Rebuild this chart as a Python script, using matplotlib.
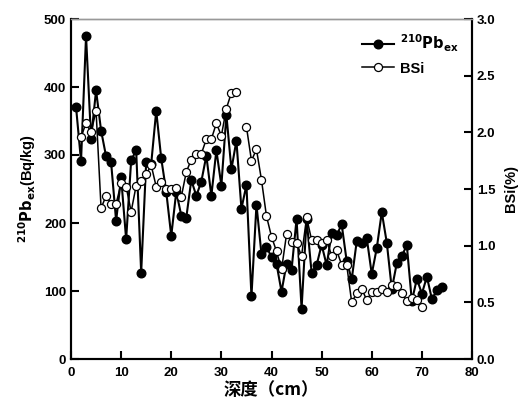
import numpy as np
import matplotlib
matplotlib.use("Agg")
import matplotlib.pyplot as plt

plt.rcParams['font.family'] = ['Liberation Sans', 'Noto Sans CJK SC', 'DejaVu Sans']
plt.rcParams['font.weight'] = 'bold'

# Depth (cm) and measured series
depth_pb = list(range(1, 75))
pb210 = [371, 291, 475, 324, 395, 336, 298, 289, 203, 267,
         176, 292, 307, 127, 290, 287, 365, 295, 246, 181,
         246, 211, 208, 263, 240, 261, 299, 240, 307, 255,
         359, 279, 321, 221, 256, 92, 227, 154, 165, 150,
         140, 99, 140, 131, 206, 74, 206, 127, 138, 168,
         138, 185, 182, 198, 144, 117, 173, 171, 178, 125,
         163, 216, 171, 103, 141, 152, 167, 85, 118, 96,
         121, 88, 101, 106]

depth_bsi = list(range(2, 71))
bsi = [1.96, 2.08, 2.00, 2.19, 1.33, 1.44, 1.37, 1.37, 1.55, 1.52,
       1.30, 1.53, 1.57, 1.63, 1.71, 1.52, 1.56, 1.50, 1.50, 1.51,
       1.43, 1.65, 1.76, 1.81, 1.81, 1.94, 1.94, 2.08, 1.97, 2.21,
       2.35, 2.36, np.nan, 2.05, 1.75, 1.85, 1.58, 1.26, 1.08, 0.95,
       0.79, 1.10, 1.03, 1.02, 0.91, 1.25, 1.05, 1.05, 1.02, 1.05,
       0.91, 0.96, 0.83, 0.83, 0.50, 0.58, 0.62, 0.52, 0.59, 0.59,
       0.62, 0.59, 0.65, 0.64, 0.58, 0.51, 0.54, 0.52, 0.46]

x_ticks = [0, 10, 20, 30, 40, 50, 60, 70, 80]
left_ticks = [0, 100, 200, 300, 400, 500]
right_ticks = [0.0, 0.5, 1.0, 1.5, 2.0, 2.5, 3.0]

fig = plt.figure(figsize=(5.25, 3.99), dpi=100)
ax = fig.add_axes([71 / 525, 40 / 399, 401 / 525, 340 / 399])
ax2 = ax.twinx()

l1, = ax.plot(depth_pb, pb210, '-o', color='black', lw=1.5,
              markersize=6.2, markerfacecolor='black', markeredgecolor='black',
              label=r'$\mathbf{^{210}Pb_{ex}}$')
l2, = ax2.plot(depth_bsi, bsi, '-o', color='black', lw=1.1,
               markersize=5.8, markerfacecolor='white', markeredgecolor='black',
               markeredgewidth=0.9, label='BSi')

ax.set_xlim(0, 80)
ax.set_ylim(0, 500)
ax2.set_ylim(0, 3.0)
ax.set_xticks(x_ticks)
ax.set_yticks(left_ticks)
ax2.set_yticks(right_ticks)
ax2.set_yticklabels([f"{v:.1f}" for v in right_ticks])

for a in (ax, ax2):
    a.tick_params(direction='in', length=6, width=1.5, labelsize=9.5)
    for s in a.spines.values():
        s.set_linewidth(1.5)
    a.spines['top'].set_color('#999999')
    a.spines['top'].set_linewidth(1.0)
ax.tick_params(axis='x', pad=6)

ax.set_ylabel(r'$\mathbf{^{210}Pb_{ex}}$(Bq/kg)', fontsize=10.5, fontweight='bold', labelpad=4)
ax2.set_ylabel('BSi(%)', fontsize=10.5, fontweight='bold', labelpad=6)
ax.set_xlabel('深度（cm）', fontsize=12.5, fontweight='bold', labelpad=1,
              family=['Noto Sans CJK SC', 'DejaVu Sans'])

leg = ax2.legend(handles=[l1, l2], loc='upper right', frameon=False,
                 fontsize=10.5, bbox_to_anchor=(1.0, 1.0),
                 handlelength=2.2, handletextpad=0.4, labelspacing=0.55)
for t in leg.get_texts():
    t.set_fontweight('bold')

fig.savefig('out.png', dpi=100)
